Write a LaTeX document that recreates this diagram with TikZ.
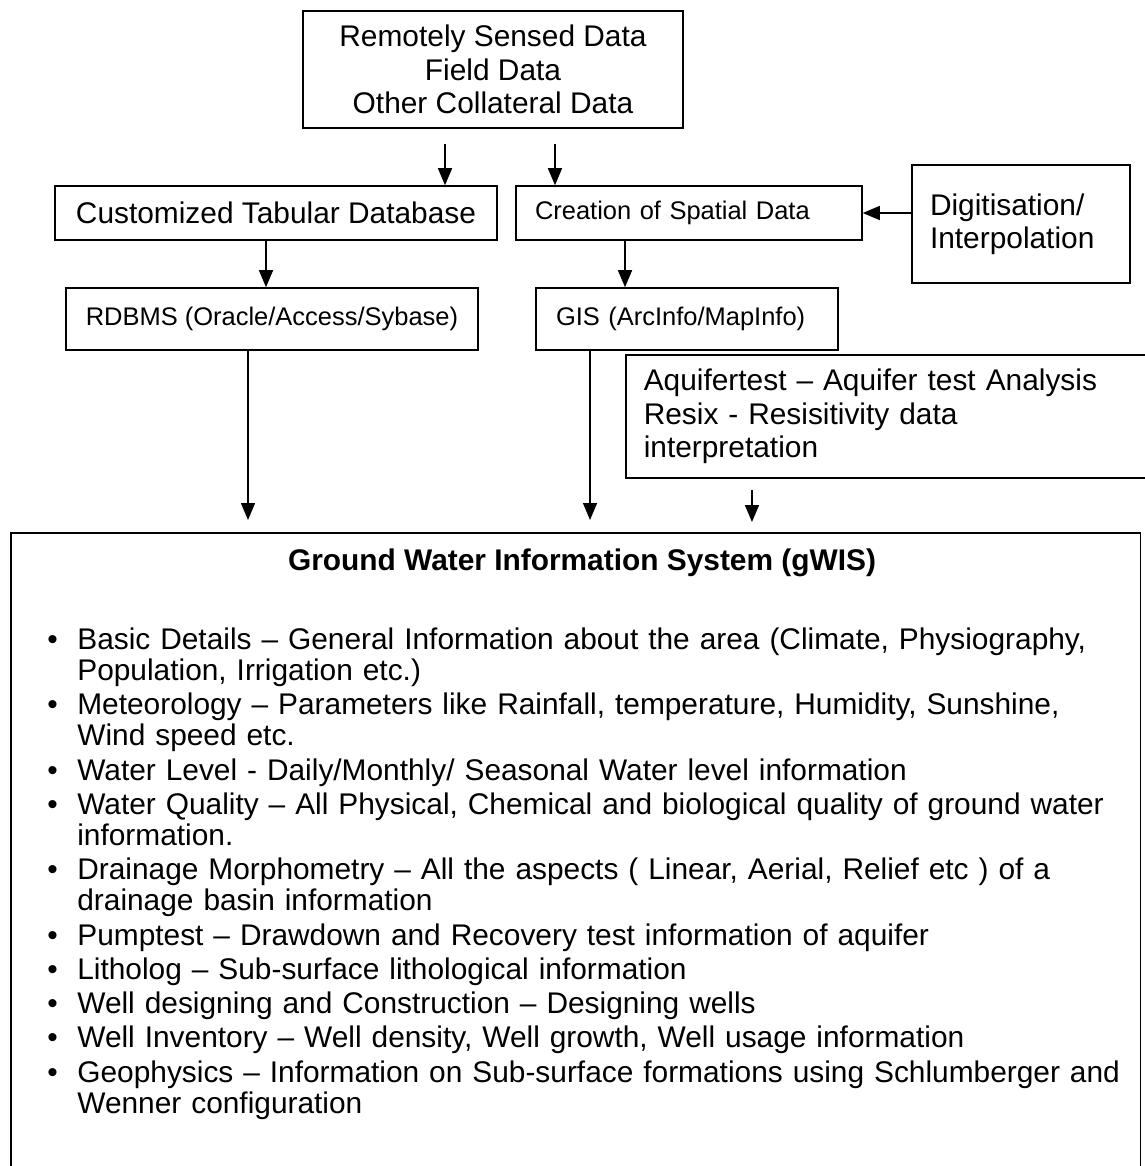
\documentclass[tikz,border=0pt]{standalone}
\usepackage{fontspec}
\setmainfont{Liberation Sans}
\usepackage{enumitem}
\usetikzlibrary{arrows.meta}

\begin{document}
\begin{tikzpicture}[
  x=0.02cm, y=-0.02cm,
  font=\fontsize{17}{19}\selectfont,
  box/.style={draw=black, line width=0.9pt, inner sep=0pt},
  small/.style={font=\fontsize{14.5}{17}\selectfont},
  arrow/.style={-{Triangle[length=3.4mm,width=2.8mm]}, line width=0.8pt}
]
\useasboundingbox (0,0) rectangle (1145,1166);

\node[box, minimum width=7.6cm, minimum height=2.34cm, align=center] (src) at (493,69.5)
  {Remotely Sensed Data\\Field Data\\Other Collateral Data};
\node[box, minimum width=8.84cm, minimum height=1.08cm] (tab) at (276,213) {Customized Tabular Database};
\node[box, small, minimum width=6.92cm, minimum height=1.08cm, inner xsep=0.38cm, text width=6.16cm, align=left] (spat) at (689,213)
  {Creation of  Spatial Data};
\node[box, minimum width=4.36cm, minimum height=2.36cm, inner xsep=0.36cm, text width=3.64cm, align=left] (dig) at (1021,224)
  {Digitisation/\\Interpolation};
\node[box, small, minimum width=8.24cm, minimum height=1.24cm] (rdb) at (272,319) {RDBMS (Oracle/Access/Sybase)};
\node[box, small, minimum width=6.04cm, minimum height=1.24cm, inner xsep=0.4cm, text width=5.24cm, align=left] (gis) at (687,319)
  {GIS (ArcInfo/MapInfo)};
\node[box, anchor=north west, minimum width=10.5cm, minimum height=2.46cm, inner xsep=0.36cm, text width=9.78cm, align=left] (aq) at (625,354)
  {Aquifertest – Aquifer test Analysis\\Resix -  Resisitivity data\\interpretation};
\node[box, anchor=north west, minimum width=22.6cm, minimum height=13cm] (gwis) at (10,532) {};
\node[font=\bfseries\fontsize{17}{19}\selectfont] (title) at (582,563) {Ground Water Information System (gWIS)};

\node[anchor=north west, inner sep=0pt, text width=21.8cm, font=\fontsize{17}{17.7}\selectfont] (items) at (47,618) {\raggedright
\begin{itemize}[leftmargin=0.6cm, labelsep=0.39cm, itemsep=1.8pt, topsep=0pt, parsep=0pt, partopsep=0pt, label=\textbullet]
\item Basic Details – General Information about the area (Climate, Physiography,\\ Population, Irrigation etc.)
\item Meteorology – Parameters like Rainfall, temperature, Humidity, Sunshine,\\ Wind speed etc.
\item Water Level -  Daily/Monthly/ Seasonal Water level information
\item Water Quality – All Physical, Chemical and biological quality of ground water\\ information.
\item Drainage Morphometry – All the aspects ( Linear, Aerial, Relief etc ) of a\\ drainage basin information
\item Pumptest – Drawdown and Recovery test information of  aquifer
\item Litholog – Sub-surface lithological information
\item Well designing and Construction – Designing wells
\item Well Inventory – Well density, Well growth, Well usage information
\item Geophysics – Information on Sub-surface formations using Schlumberger and\\ Wenner configuration
\end{itemize}};

\coordinate (s1) at ([xshift=-0.96cm,yshift=-0.3cm]src.south);
\coordinate (s2) at ([xshift=1.24cm,yshift=-0.3cm]src.south);
\coordinate (t1) at ([xshift=-0.2cm]tab.south);
\coordinate (c1) at ([xshift=-1.28cm]spat.south);
\coordinate (r1) at ([xshift=-0.48cm]rdb.south);
\coordinate (g1) at ([xshift=-1.94cm]gis.south);
\coordinate (q1) at ([xshift=2.54cm]aq.south west);

\draw[arrow] (s1) -- (s1 |- tab.north);
\draw[arrow] (s2) -- (s2 |- spat.north);
\draw[arrow] (t1) -- (t1 |- rdb.north);
\draw[arrow] (c1) -- (c1 |- gis.north);
\draw[arrow] (dig.west |- spat.east) -- (spat.east);
\draw[arrow, shorten >=2.4mm] (r1) -- (r1 |- gwis.north);
\draw[arrow, shorten >=2.4mm] (g1) -- (g1 |- gwis.north);
\draw[arrow, shorten <=2.2mm, shorten >=2mm] (q1) -- (q1 |- gwis.north);

\end{tikzpicture}
\end{document}
